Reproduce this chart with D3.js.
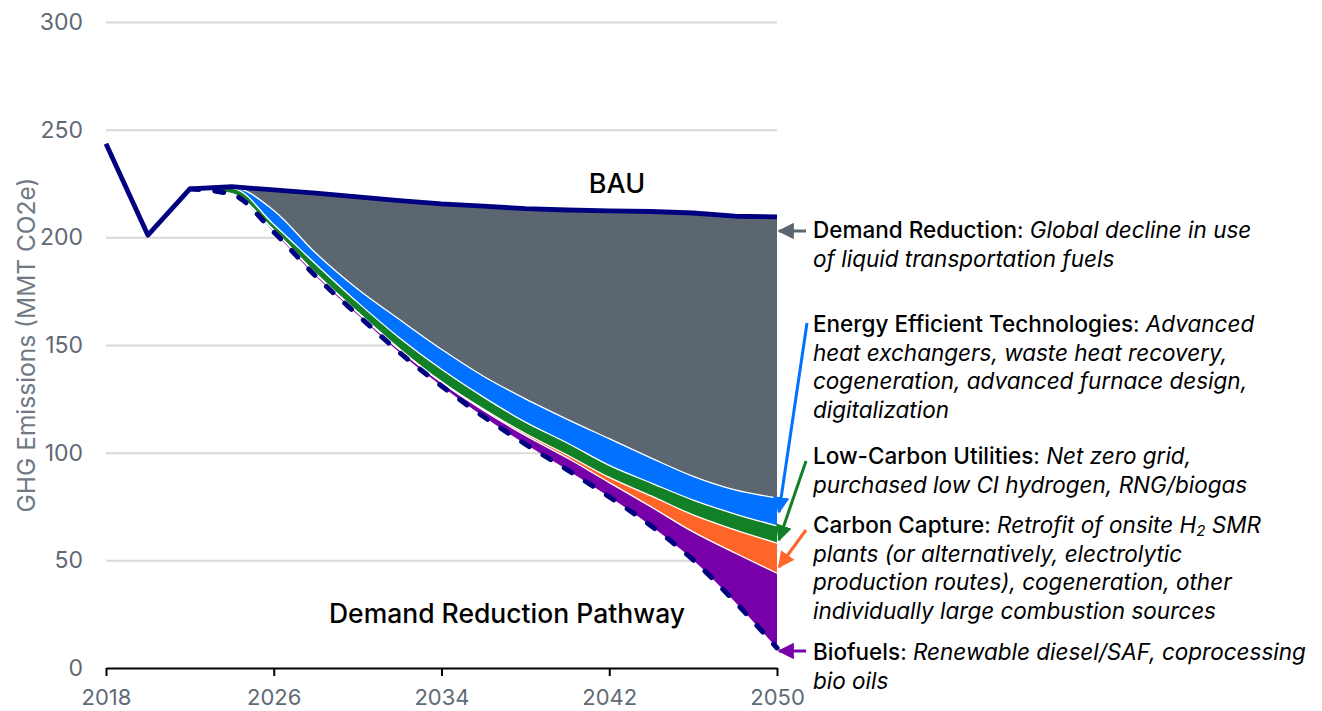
<!DOCTYPE html>
<html>
<head>
<meta charset="utf-8">
<script src="https://cdn.jsdelivr.net/npm/d3@7"></script>
<style>
  html, body { margin: 0; padding: 0; background: #ffffff; }
  svg { display: block; font-family: Inter, "Noto Sans", sans-serif; }
</style>
</head>
<body>
<svg id="chart" width="1322" height="711"></svg>
<script>
// Business-as-usual emissions, MMT CO2e
const bauYears = [2018, 2020, 2022, 2024, 2026, 2028, 2030, 2032, 2034, 2036, 2038, 2040, 2042, 2044, 2046, 2048, 2050];
const bau = [243.5, 201, 222.5, 223.5, 222, 220.5, 218.8, 217, 215.5, 214.5, 213.3, 212.7, 212.3, 212, 211.3, 209.8, 209.5];

// Demand reduction pathway and the abatement wedges stacked on top of it
const pathYears = [2022, 2024, 2026, 2028, 2030, 2032, 2034, 2036, 2038, 2040, 2042, 2044, 2046, 2048, 2050];
const pathway = [222.5, 220, 202.5, 182, 164, 146.5, 131, 116.8, 104, 92, 79.5, 66, 50.2, 30.7, 9.3];
const biofuels = [0, 0.2, 0.7, 1, 1, 1.3, 1.6, 2.8, 4.0, 5.5, 6.6, 8.8, 13, 22.7, 34.7];
const carbonCapture = [0, 0.1, 0.2, 0.3, 0.3, 0.4, 0.4, 0.6, 0.9, 1.4, 2.4, 5.1, 7.9, 10.7, 14];
const lowCarbonUtilities = [0, 2.5, 2.6, 4.3, 4.5, 5.1, 5.7, 5.6, 5.3, 5.6, 5.6, 6.0, 6.9, 7.4, 8];
const energyEfficiency = [0, 0.4, 6.5, 5.1, 6.2, 8.5, 9.3, 9.7, 10.8, 11.0, 12.4, 11.6, 11.0, 11.2, 13];
const demandReduction = [0, 0.3, 9.5, 27.8, 42.8, 55.2, 67.5, 79.0, 88.3, 97.2, 105.8, 114.5, 122.3, 127.1, 130.5];

const yTicks = [0, 50, 100, 150, 200, 250, 300];
const xTicks = [2018, 2026, 2034, 2042, 2050];

const wedgeKeys = ["pathway", "biofuels", "carbonCapture", "lowCarbonUtilities", "energyEfficiency", "demandReduction"];
const wedgeColors = {
  biofuels: "#7800a8",
  carbonCapture: "#ff6428",
  lowCarbonUtilities: "#118026",
  energyEfficiency: "#0072ff",
  demandReduction: "#5c6670"
};
const navy = "#000080";
const axisGray = "#5f6a75";

const table = pathYears.map((yr, i) => ({
  year: yr,
  pathway: pathway[i],
  biofuels: biofuels[i],
  carbonCapture: carbonCapture[i],
  lowCarbonUtilities: lowCarbonUtilities[i],
  energyEfficiency: energyEfficiency[i],
  demandReduction: demandReduction[i]
}));

const svg = d3.select("#chart");
const x = d3.scaleLinear().domain([2018, 2050]).range([106, 777]);
const y = d3.scaleLinear().domain([0, 300]).range([668, 22]);

// Horizontal gridlines and y tick labels
const yAxis = svg.append("g")
  .attr("transform", `translate(${x(2018)},0)`)
  .call(d3.axisLeft(y).tickValues(yTicks).tickSize(-(x(2050) - x(2018))).tickPadding(23));
yAxis.select(".domain").remove();
yAxis.selectAll(".tick line")
  .attr("stroke", "#d9d9d9").attr("stroke-width", 2)
  .attr("display", d => d === 0 ? "none" : null);
yAxis.selectAll(".tick text")
  .attr("fill", axisGray).attr("font-size", 23)
  .attr("font-family", "Inter, sans-serif");

svg.append("text")
  .attr("transform", `translate(28,${y(150)}) rotate(-90)`)
  .attr("text-anchor", "middle")
  .attr("dominant-baseline", "middle")
  .attr("fill", "#6e7984")
  .attr("font-size", 24.5)
  .text("GHG Emissions (MMT CO2e)");

// Stacked wedges
const curve = d3.curveMonotoneX;
const series = d3.stack().keys(wedgeKeys)(table);
const area = d3.area()
  .curve(curve)
  .x(d => x(d.data.year))
  .y0(d => y(d[0]))
  .y1(d => y(d[1]));
const topLine = d3.line()
  .curve(curve)
  .x(d => x(d.data.year))
  .y(d => y(d[1]));

const wedges = series.filter(s => s.key !== "pathway");
svg.append("g").selectAll("path")
  .data(wedges)
  .join("path")
  .attr("fill", s => wedgeColors[s.key])
  .attr("d", area);

svg.append("g").selectAll("path")
  .data(wedges.filter(s => s.key !== "demandReduction"))
  .join("path")
  .attr("fill", "none")
  .attr("stroke", "#ffffff")
  .attr("stroke-width", 1.3)
  .attr("d", topLine);

// Pathway (dashed) and BAU lines
svg.append("path")
  .datum(pathYears.map((yr, i) => [yr, pathway[i]]))
  .attr("fill", "none")
  .attr("stroke", navy)
  .attr("stroke-width", 5)
  .attr("stroke-linecap", "round")
  .attr("stroke-dasharray", "9,16")
  .attr("d", d3.line().curve(curve).x(d => x(d[0])).y(d => y(d[1])));

svg.append("path")
  .datum(bauYears.map((yr, i) => [yr, bau[i]]))
  .attr("fill", "none")
  .attr("stroke", navy)
  .attr("stroke-width", 4.8)
  .attr("stroke-linejoin", "round")
  .attr("d", d3.line().x(d => x(d[0])).y(d => y(d[1])));

// X axis
const xAxis = svg.append("g")
  .attr("transform", `translate(0,${y(0)})`)
  .call(d3.axisBottom(x).tickValues(xTicks).tickFormat(d3.format("d")).tickSize(8).tickPadding(13).tickSizeOuter(0));
xAxis.select(".domain").attr("stroke", "#000").attr("stroke-width", 2);
xAxis.selectAll(".tick line").attr("stroke", "#000").attr("stroke-width", 2);
xAxis.selectAll(".tick text")
  .attr("fill", axisGray).attr("font-size", 22)
  .attr("font-family", "Inter, sans-serif");

// Series names inside the plot
svg.append("text")
  .attr("x", 617).attr("y", 186)
  .attr("text-anchor", "middle").attr("dominant-baseline", "middle")
  .attr("font-size", 27).attr("font-weight", 500).attr("fill", "#000")
  .text("BAU");
svg.append("text")
  .attr("x", 507).attr("y", 616)
  .attr("text-anchor", "middle").attr("dominant-baseline", "middle")
  .attr("font-size", 26.5).attr("font-weight", 500).attr("fill", "#000")
  .text("Demand Reduction Pathway");

// Arrows pointing at each wedge in 2050
const defs = svg.append("defs");
function marker(id, color) {
  defs.append("marker")
    .attr("id", id)
    .attr("viewBox", "0 0 10 10")
    .attr("refX", 9).attr("refY", 5)
    .attr("markerWidth", 5.5).attr("markerHeight", 5.5)
    .attr("markerUnits", "strokeWidth")
    .attr("orient", "auto")
    .append("path")
    .attr("d", "M0,0 L10,5 L0,10 Z")
    .attr("fill", color);
}
const arrows = [
  { id: "a-dem", color: wedgeColors.demandReduction, x1: 806, y1: 231, x2: 779, y2: 231 },
  { id: "a-eff", color: wedgeColors.energyEfficiency, x1: 807, y1: 323, x2: 779, y2: 512 },
  { id: "a-low", color: wedgeColors.lowCarbonUtilities, x1: 806, y1: 461, x2: 779, y2: 540 },
  { id: "a-cc", color: wedgeColors.carbonCapture, x1: 806, y1: 530, x2: 779, y2: 567 },
  { id: "a-bio", color: wedgeColors.biofuels, x1: 806, y1: 651, x2: 779, y2: 651 }
];
arrows.forEach(a => {
  marker(a.id, a.color);
  svg.append("line")
    .attr("x1", a.x1).attr("y1", a.y1).attr("x2", a.x2).attr("y2", a.y2)
    .attr("stroke", a.color).attr("stroke-width", 3)
    .attr("marker-end", `url(#${a.id})`);
});

// Wedge descriptions
const notes = [
  { y: 232, title: "Demand Reduction", lines: [["Global decline in use"], ["of liquid transportation fuels"]] },
  { y: 326, title: "Energy Efficient Technologies", lines: [["Advanced"], ["heat exchangers, waste heat recovery,"], ["cogeneration, advanced furnace design,"], ["digitalization"]] },
  { y: 458, title: "Low-Carbon Utilities", lines: [["Net zero grid,"], ["purchased low CI hydrogen, RNG/biogas"]] },
  { y: 527, title: "Carbon Capture", lines: [["Retrofit of onsite H", "2", " SMR"], ["plants (or alternatively, electrolytic"], ["production routes), cogeneration, other"], ["individually large combustion sources"]] },
  { y: 654, title: "Biofuels", lines: [["Renewable diesel/SAF, coprocessing"], ["bio oils"]] }
];
const lineH = 28.7;
notes.forEach(n => {
  n.lines.forEach((parts, li) => {
    const t = svg.append("text")
      .attr("x", 813).attr("y", n.y + li * lineH)
      .attr("dominant-baseline", "middle")
      .attr("font-size", 22.5).attr("fill", "#000");
    if (li === 0) {
      t.append("tspan").attr("font-weight", 500).text(n.title);
      t.append("tspan").text(": ");
    }
    parts.forEach((p, pi) => {
      const s = t.append("tspan").attr("font-style", "italic").text(p);
      if (parts.length === 3 && pi === 1) {
        s.attr("font-size", 15).attr("baseline-shift", "-5");
      }
    });
  });
});
</script>
</body>
</html>
